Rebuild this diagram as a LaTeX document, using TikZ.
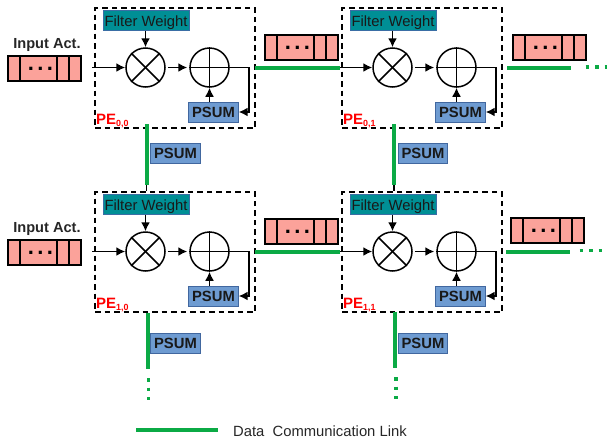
\documentclass[tikz,border=0pt]{standalone}
\usepackage{fontspec}
\setmainfont{Liberation Sans}
\usetikzlibrary{arrows.meta,calc}
\definecolor{tealbox}{HTML}{008F95}
\definecolor{tealedge}{HTML}{3A6EA5}
\definecolor{bluebox}{HTML}{6E9BD1}
\definecolor{blueedge}{HTML}{41679F}
\definecolor{pinkbox}{HTML}{FBA29A}
\definecolor{linkgreen}{HTML}{0BAA45}
\tikzset{
  x=1pt,y=-1pt,
  pebox/.style={draw=black,line width=1.5pt,dash pattern=on 5.5pt off 4pt,minimum width=160pt,minimum height=120pt,inner sep=0pt},
  fwbox/.style={draw=tealedge,fill=tealbox,line width=.9pt,minimum width=86pt,minimum height=20pt,inner sep=0pt,text height=11pt,text depth=0pt,font=\fontsize{14.8}{16}\selectfont,text=black!90},
  psbox/.style={draw=blueedge,fill=bluebox,line width=.9pt,minimum width=49.5pt,minimum height=20pt,inner sep=0pt,font=\fontsize{14.8}{16}\selectfont\bfseries,text=black!90},
  opcirc/.style={draw=black,circle,line width=1.5pt,minimum size=39pt,inner sep=0pt},
  regbox/.style={draw=black,fill=pinkbox,line width=1.6pt,minimum width=73pt,minimum height=25pt,inner sep=0pt},
  regdots/.style={anchor=base,inner sep=0pt,font=\fontsize{22}{22}\selectfont\bfseries},
  wire/.style={draw=black,line width=1.6pt},
  arrow/.style={wire,-{Latex[length=9pt,width=9pt]}},
  glink/.style={draw=linkgreen,line width=4pt},
  gdots/.style={draw=linkgreen,line width=3.6pt,dash pattern=on 3.6pt off 5.9pt},
  lbl/.style={inner sep=0pt,font=\fontsize{14.6}{16}\selectfont\bfseries,text=black!85},
  pelbl/.style={anchor=base west,inner sep=0pt,text=red,font=\fontsize{15}{16}\selectfont\bfseries},
}
% #1 id, #2 left x, #3 top y, #4 subscript
\newcommand{\PEunit}[4]{%
  \node[pebox] (pe#1) at (#2+80,#3+60) {};
  \node[fwbox] (fw#1) at (#2+51,#3+12.5) {Filter Weight};
  \node[opcirc] (mul#1) at (#2+50.5,#3+59.5) {};
  \node[opcirc] (add#1) at (#2+114.5,#3+59.5) {};
  \node[psbox] (ps#1) at (#2+118.5,#3+104) {PSUM};
  \draw[wire] (mul#1.north west) -- (mul#1.south east);
  \draw[wire] (mul#1.north east) -- (mul#1.south west);
  \draw[wire] (add#1.north) -- (add#1.south);
  \draw[wire] (add#1.west) -- (add#1.east);
  \draw[arrow] (fw#1.south -| mul#1.north) -- (mul#1.north);
  \draw[arrow,shorten <=2pt,shorten >=2pt] (mul#1.east) -- (add#1.west);
  \draw[arrow] (ps#1.north -| add#1.south) -- (add#1.south);
  \draw[arrow] (add#1.east) -| ($(ps#1.east)+(10,0)$) -- (ps#1.east);
  \node[pelbl] (pl#1) at (#2+1,#3+116) {PE\raisebox{-2pt}{\fontsize{8.9}{9}\selectfont #4}};
}
% #1 id, #2 left x, #3 top y
\newcommand{\REG}[3]{%
  \node[regbox] (r#1) at (#2+36.5,#3+12.5) {};
  \draw[line width=1.6pt] ($(r#1.north west)+(13,0)$) -- ($(r#1.south west)+(13,0)$);
  \draw[line width=1.6pt] ($(r#1.north west)+(50,0)$) -- ($(r#1.south west)+(50,0)$);
  \draw[line width=1.6pt] ($(r#1.north west)+(61.5,0)$) -- ($(r#1.south west)+(61.5,0)$);
  \node[regdots] (rd#1) at (#2+32.5,#3+14) {.\hspace{3.4pt}.\hspace{3.4pt}.};
}
% #1 id, #2 x, #3 y of PSUM centre
\newcommand{\PSTAG}[3]{\node[psbox] (pt#1) at (#2,#3) {PSUM};}
\begin{document}
\begin{tikzpicture}
\useasboundingbox (0,0) rectangle (607,445);
\PEunit{00}{95}{8}{0,0}
\PEunit{01}{342}{8}{0,1}
\PEunit{10}{95}{192}{1,0}
\PEunit{11}{342}{192}{1,1}
\REG{in0}{8}{56}
\REG{in1}{8}{240}
\REG{m0}{265}{35}
\REG{m1}{265}{219}
\REG{o0}{513}{35}
\REG{o1}{511}{218}
\node[lbl] (ia0) at (47,45) {Input Act.};
\node[lbl] (ia1) at (47,229) {Input Act.};
\PSTAG{v00}{175.5}{153.5}
\PSTAG{v01}{423}{153.5}
\PSTAG{v10}{175.5}{343}
\PSTAG{v11}{423}{343}
% free ends
\coordinate (i0) at (92,67.5);
\coordinate (i1) at (92,251.5);
\coordinate (h0a) at (255,68);
\coordinate (h0b) at (340,68);
\coordinate (h1a) at (255,252);
\coordinate (h1b) at (340,252);
\coordinate (j0) at (340,67.5);
\coordinate (j1) at (340,251.5);
\coordinate (o0a) at (507,68);
\coordinate (o0b) at (571,68);
\coordinate (o1a) at (506,251.5);
\coordinate (o1b) at (570,251.5);
\coordinate (d0a) at (585.5,67);
\coordinate (d0b) at (607,67);
\coordinate (d1a) at (579.5,250.5);
\coordinate (d1b) at (607,250.5);
\coordinate (v0a) at (146.5,124);
\coordinate (v0b) at (146.5,185);
\coordinate (v1a) at (394,124);
\coordinate (v1b) at (394,185);
\coordinate (v2a) at (147.5,313);
\coordinate (v2b) at (147.5,369);
\coordinate (v3a) at (395,312);
\coordinate (v3b) at (395,368);
\coordinate (e0a) at (148.5,378.2);
\coordinate (e0b) at (148.5,400);
\coordinate (e1a) at (396,377.2);
\coordinate (e1b) at (396,399);
\coordinate (la) at (136,429.5);
\coordinate (lb) at (218,429.5);
% wires
\draw[arrow] (i0) -- (mul00.west);
\draw[arrow] (i1) -- (mul10.west);
\draw[arrow] (j0) -- (mul01.west);
\draw[arrow] (j1) -- (mul11.west);
\draw[wire] (v0b) -- (pe10.north -| v0b);
\draw[wire] (v1b) -- (pe11.north -| v1b);
% green links
\draw[glink] (h0a) -- (h0b);
\draw[glink] (h1a) -- (h1b);
\draw[glink] (o0a) -- (o0b);
\draw[glink] (o1a) -- (o1b);
\draw[glink] (v0a) -- (v0b);
\draw[glink] (v1a) -- (v1b);
\draw[glink] (v2a) -- (v2b);
\draw[glink] (v3a) -- (v3b);
\draw[gdots] (d0a) -- (d0b);
\draw[gdots] (d1a) -- (d1b);
\draw[gdots] (e0a) -- (e0b);
\draw[gdots] (e1a) -- (e1b);
\draw[glink] (la) -- (lb);
\node[anchor=base west,inner sep=0pt,font=\fontsize{14.8}{16}\selectfont,text=black!85] (leg) at (233,436) {Data\ \ Communication Link};
\end{tikzpicture}
\end{document}
